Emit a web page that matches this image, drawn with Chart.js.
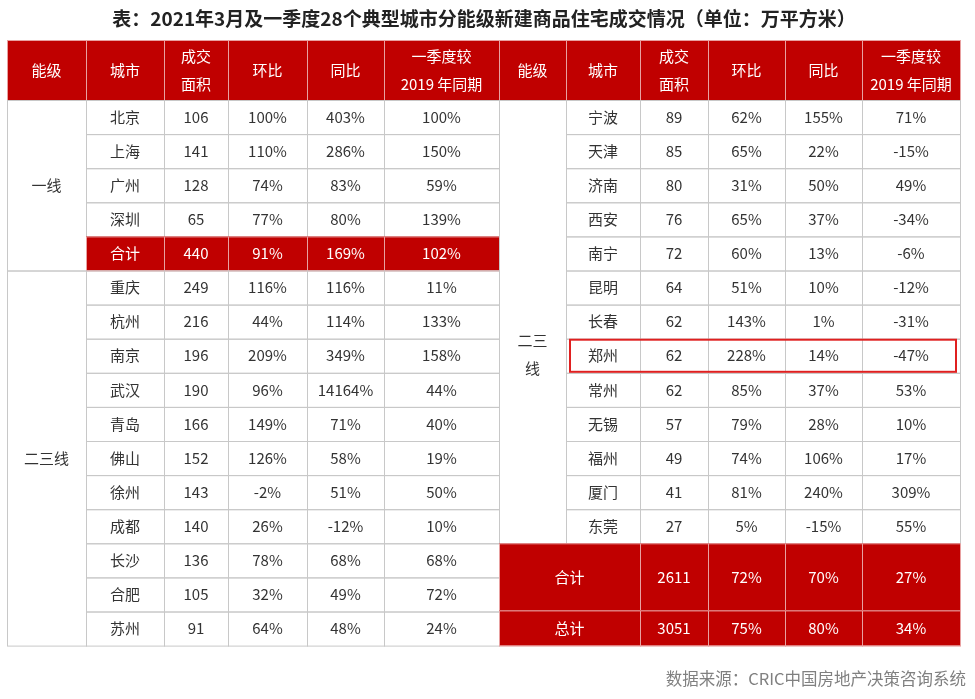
<!DOCTYPE html>
<html><head><meta charset="utf-8">
<script src="https://cdn.jsdelivr.net/npm/chart.js@4/dist/chart.umd.min.js"></script>
<style>html,body{margin:0;padding:0;background:#fff}</style>
</head><body>
<canvas id="c" width="975" height="699"></canvas>
<script>
const title = '表：2021年3月及一季度28个典型城市分能级新建商品住宅成交情况（单位：万平方米）';
const source = '数据来源：CRIC中国房地产决策咨询系统';
const headers = ['能级', '城市', '成交\n面积', '环比', '同比', '一季度较\n2019 年同期'];

const leftCities = ['北京','上海','广州','深圳','合计','重庆','杭州','南京','武汉','青岛','佛山','徐州','成都','长沙','合肥','苏州'];
const leftArea = [106,141,128,65,440,249,216,196,190,166,152,143,140,136,105,91];
const leftHb = [100,110,74,77,91,116,44,209,96,149,126,-2,26,78,32,64];
const leftTb = [403,286,83,80,169,116,114,349,14164,71,58,51,-12,68,49,48];
const leftQ19 = [100,150,59,139,102,11,133,158,44,40,19,50,10,68,72,24];

const rightCities = ['宁波','天津','济南','西安','南宁','昆明','长春','郑州','常州','无锡','福州','厦门','东莞','合计','总计'];
const rightArea = [89,85,80,76,72,64,62,62,62,57,49,41,27,2611,3051];
const rightHb = [62,65,31,65,60,51,143,228,85,79,74,81,5,72,75];
const rightTb = [155,22,50,37,13,10,1,14,37,28,106,240,-15,70,80];
const rightQ19 = [71,-15,49,-34,-6,-12,-31,-47,53,10,17,309,55,27,34];

const RED = '#c00000';
const FONT = '"Noto Sans CJK SC", "Noto Sans", sans-serif';

const tablePlugin = {
  id: 'table',
  afterDraw(chart) {
    const ctx = chart.ctx, xs = chart.scales.x, ys = chart.scales.y;
    const X = v => xs.getPixelForValue(v), Y = v => ys.getPixelForValue(v);
    const lc = [7, 86, 164, 228, 307, 384, 499];
    const rc = [499, 566, 640, 708, 785, 862, 960];
    const top = 40, headH = 60, rowH = 34.1;
    const ry = r => top + headH + r * rowH;

    function cell(x0, x1, y0, y1, text, fill, dy) {
      if (fill) { ctx.fillStyle = fill; ctx.fillRect(X(x0), Y(y0), X(x1) - X(x0), Y(y1) - Y(y0)); }
      ctx.strokeStyle = fill ? '#e8a0a0' : '#c8c8c8'; ctx.lineWidth = 1;
      ctx.strokeRect(X(x0) + 0.5, Y(y0) + 0.5, X(x1) - X(x0), Y(y1) - Y(y0));
      ctx.fillStyle = fill ? '#fff' : '#333';
      ctx.font = '15px ' + FONT;
      ctx.textAlign = 'center'; ctx.textBaseline = 'middle';
      const lines = String(text).split('\n');
      const cy = Y((y0 + y1) / 2 + (dy || 0));
      lines.forEach((t, i) => ctx.fillText(t, X((x0 + x1) / 2), cy + (i - (lines.length - 1) / 2) * 28));
    }
    const pct = v => v + '%';

    ctx.save();
    ctx.fillStyle = '#222'; ctx.font = 'bold 19px ' + FONT; ctx.textAlign = 'center'; ctx.textBaseline = 'middle';
    ctx.fillText(title, X(484), Y(19));
    [lc, rc].forEach(cols => headers.forEach((h, i) => cell(cols[i], cols[i + 1], top, top + headH, h, RED)));
    cell(lc[0], lc[1], ry(0), ry(5), '一线');
    cell(lc[0], lc[1], ry(5), ry(16), '二三线');
    leftCities.forEach((c, r) => {
      const f = c === '合计' ? RED : null;
      [c, leftArea[r], pct(leftHb[r]), pct(leftTb[r]), pct(leftQ19[r])].forEach((t, k) =>
        cell(lc[k + 1], lc[k + 2], ry(r), ry(r + 1), t, f));
    });
    cell(rc[0], rc[1], ry(0), ry(13), '二三\n线', null, 33);
    rightCities.forEach((c, r) => {
      let y0 = ry(r), y1 = ry(r + 1);
      if (c === '合计') { y0 = ry(13); y1 = ry(14) + 33; }
      if (c === '总计') { y0 = ry(14) + 33; y1 = ry(16); }
      const vals = [rightArea[r], pct(rightHb[r]), pct(rightTb[r]), pct(rightQ19[r])];
      if (r >= 13) {
        cell(rc[0], rc[2], y0, y1, c, RED);
        vals.forEach((t, k) => cell(rc[k + 2], rc[k + 3], y0, y1, t, RED));
      } else {
        [c].concat(vals).forEach((t, k) => cell(rc[k + 1], rc[k + 2], y0, y1, t, null));
      }
    });
    const zr = rightCities.indexOf('郑州');
    ctx.strokeStyle = '#e02020'; ctx.lineWidth = 2;
    ctx.strokeRect(X(570), Y(ry(zr) + 1), X(956) - X(570), Y(ry(zr + 1) - 1) - Y(ry(zr) + 1));
    ctx.fillStyle = '#808080'; ctx.font = '16.5px ' + FONT; ctx.textAlign = 'right';
    ctx.fillText(source, X(966), Y(679));
    ctx.restore();
  }
};

new Chart(document.getElementById('c'), {
  type: 'scatter',
  data: { datasets: [{ data: [] }] },
  options: {
    responsive: false, animation: false, devicePixelRatio: 1,
    layout: { padding: 0 },
    plugins: { legend: { display: false }, tooltip: { enabled: false } },
    scales: {
      x: { type: 'linear', min: 0, max: 975, display: false },
      y: { type: 'linear', min: 0, max: 699, reverse: true, display: false }
    }
  },
  plugins: [tablePlugin]
});
</script>
</body></html>
